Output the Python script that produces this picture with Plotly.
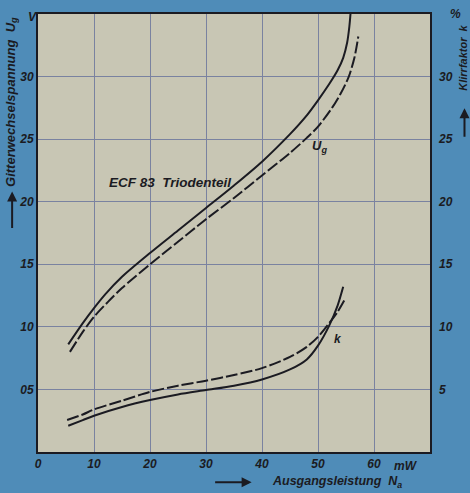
import plotly.graph_objects as go

# Output power N_a in mW, grid AC voltage U_g in V (left axis)
ug_solid_x = [5.4, 8, 10, 12, 15, 20, 25, 30, 35, 40, 45, 48, 50, 52, 53.5, 54.5, 55.2, 55.6, 55.8]
ug_solid_y = [0.86, 1.03, 1.15, 1.26, 1.40, 1.59, 1.77, 1.95, 2.13, 2.32, 2.54, 2.69, 2.81, 2.94, 3.05, 3.15, 3.27, 3.40, 3.50]
ug_dash_x = [5.7, 8, 10, 12.5, 15, 20, 25, 30, 35, 40, 45, 48, 50, 52.5, 54, 55.5, 56.5, 57.2]
ug_dash_y = [0.80, 0.96, 1.08, 1.20, 1.31, 1.50, 1.68, 1.86, 2.03, 2.21, 2.39, 2.51, 2.60, 2.75, 2.86, 3.00, 3.15, 3.32]

# Distortion factor k in % (right axis)
k_solid_x = [5.4, 8, 10, 15, 20, 25, 30, 35, 40, 45, 48, 50, 52, 53.5, 54.5]
k_solid_y = [2.1, 2.55, 2.9, 3.6, 4.15, 4.6, 4.95, 5.3, 5.8, 6.6, 7.4, 8.5, 10.1, 11.7, 13.2]
k_dash_x = [5.2, 8, 10, 15, 20, 25, 30, 35, 40, 45, 48, 50, 52, 53.5, 54.8]
k_dash_y = [2.56, 3.0, 3.4, 4.1, 4.8, 5.3, 5.7, 6.15, 6.7, 7.6, 8.4, 9.2, 10.3, 11.2, 12.2]

x_ticks = [0, 10, 20, 30, 40, 50, 60]
left_tickvals = [0.5, 1.0, 1.5, 2.0, 2.5, 3.0]
left_ticktext = ["05", "10", "15", "20", "25", "30"]
right_tickvals = [5, 10, 15, 20, 25, 30]
right_ticktext = ["5", "10", "15", "20", "25", "30"]

INK = "#1b1b22"
GRID = "#7a82a0"
BG_OUT = "#4f8cb8"
FONT = dict(family="Liberation Sans, Arial, sans-serif", size=12, color=INK,
            style="italic", weight="bold")

fig = go.Figure()
line_common = dict(color=INK, width=2, shape="spline", smoothing=0.8)
fig.add_trace(go.Scatter(x=ug_solid_x, y=ug_solid_y, mode="lines",
                         line=dict(line_common), yaxis="y"))
fig.add_trace(go.Scatter(x=ug_dash_x, y=ug_dash_y, mode="lines",
                         line=dict(line_common, dash="12px,3px"), yaxis="y"))
fig.add_trace(go.Scatter(x=k_solid_x, y=k_solid_y, mode="lines",
                         line=dict(line_common), yaxis="y2"))
fig.add_trace(go.Scatter(x=k_dash_x, y=k_dash_y, mode="lines",
                         line=dict(line_common, dash="12px,3px"), yaxis="y2"))


def note(text, x, y, xref="paper", yref="paper", size=12, angle=0, **kw):
    return dict(text=text, x=x, y=y, xref=xref, yref=yref, textangle=angle,
                xanchor=kw.pop("xanchor", "center"), yanchor="middle",
                showarrow=False, font=dict(FONT, size=size), **kw)


def arrow(x, y, ax, ay):
    return dict(text="", x=x, y=y, ax=ax, ay=ay, xref="paper", yref="paper",
                showarrow=True, arrowhead=2, arrowsize=1, arrowwidth=2, arrowcolor=INK)


annotations = [
    note("ECF 83  Triodenteil", 23.6, 2.15, "x", "y", size=13.5),
    note("U<sub>g</sub>", 50.3, 2.44, "x", "y", size=13),
    note("k", 53.6, 9.0, "x", "y2"),
    note("V", 0, 1, xshift=-6, yshift=-3),
    note("%", 1.066, 1),
    note("mW", 0.94, -0.032),
    note("Ausgangsleistung  N<sub>a</sub>", 0.592, -0.068, size=12.5, xanchor="left"),
    arrow(0.545, -0.069, -38, 0),
    note("Gitterwechselspannung  U<sub>g</sub>", -0.068, 0.80, angle=-90, size=13),
    arrow(-0.066, 0.595, 0, 38),
    note("Klirrfaktor  k", 1.084, 0.9, angle=-90, size=11),
    arrow(1.088, 0.785, 0, 30),
]

fig.update_layout(
    width=470, height=493,
    margin=dict(l=38, r=40, t=14, b=41),
    paper_bgcolor=BG_OUT,
    plot_bgcolor="#c8c6b4",
    showlegend=False,
    font=FONT,
    annotations=annotations,
    xaxis=dict(range=[0, 70], tickvals=x_ticks, ticktext=[str(v) for v in x_ticks],
               showgrid=True, gridcolor=GRID, gridwidth=1.2, zeroline=False,
               showline=True, linecolor=INK, linewidth=2, mirror=True,
               ticks="", tickfont=FONT),
    yaxis=dict(range=[0, 3.5], tickvals=left_tickvals, ticktext=left_ticktext,
               showgrid=True, gridcolor=GRID, gridwidth=1.2, zeroline=False,
               showline=True, linecolor=INK, linewidth=2, mirror=True,
               ticks="", tickfont=FONT),
    yaxis2=dict(range=[0, 35], tickvals=right_tickvals, ticktext=right_ticktext,
                overlaying="y", side="right", showgrid=False, zeroline=False,
                ticks="", tickfont=FONT, ticklabelstandoff=8),
)

fig.write_html(
    "out.html",
    config={"displayModeBar": False},
    post_script="document.body.style.margin='0';document.body.style.background='%s';" % BG_OUT,
)
